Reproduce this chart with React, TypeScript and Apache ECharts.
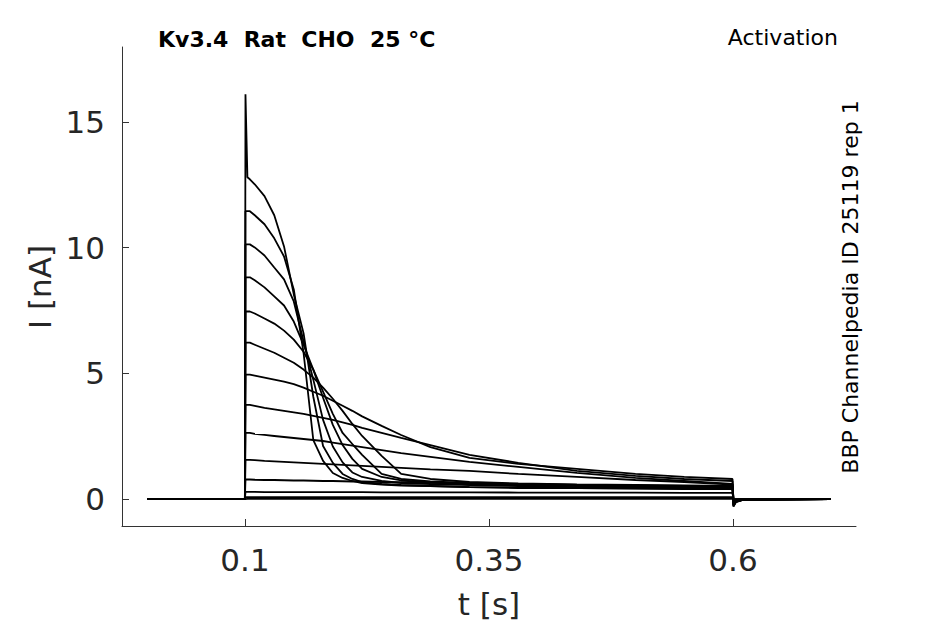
import React, { useEffect, useRef } from "react";
import * as echarts from "echarts";

// time samples [s]
const tSamples = [0, 0.0999, 0.1005, 0.1025, 0.105, 0.11, 0.12, 0.13, 0.14, 0.15, 0.16, 0.17, 0.18, 0.19, 0.2, 0.21, 0.22, 0.24, 0.26, 0.29, 0.33, 0.38, 0.44, 0.5, 0.55, 0.5995, 0.6005, 0.603, 0.61, 0.7];

// current traces [nA]
const traceA = [0, 0, 16.1, 12.8, 12.72, 12.52, 12.05, 11.29, 10.05, 8.14, 6.6, 4.07, 2.11, 1.44, 1.0, 0.8, 0.68, 0.6, 0.56, 0.52, 0.48, 0.46, 0.44, 0.43, 0.42, 0.4, -0.3, -0.12, -0.03, 0];
const traceB = [0, 0, 11.45, 11.45, 11.45, 11.29, 10.93, 10.37, 9.65, 8.34, 5.82, 2.35, 1.52, 1.04, 0.84, 0.72, 0.64, 0.58, 0.54, 0.52, 0.48, 0.44, 0.44, 0.42, 0.4, 0.4, -0.28, -0.11, -0.03, 0];
const traceC = [0, 0, 10.13, 10.13, 10.13, 10.01, 9.69, 9.21, 8.74, 7.86, 6.28, 4.75, 3.15, 2.09, 1.46, 1.06, 0.88, 0.72, 0.64, 0.6, 0.56, 0.52, 0.48, 0.48, 0.46, 0.44, -0.26, -0.1, -0.03, 0];
const traceD = [0, 0, 8.82, 8.82, 8.82, 8.7, 8.42, 8.06, 7.7, 7.06, 6.14, 5.15, 4.03, 2.95, 2.15, 1.6, 1.2, 0.88, 0.74, 0.66, 0.6, 0.56, 0.52, 0.5, 0.48, 0.46, -0.24, -0.1, -0.02, 0];
const traceE = [0, 0, 7.46, 7.46, 7.46, 7.38, 7.18, 6.98, 6.7, 6.34, 5.86, 5.15, 4.27, 3.39, 2.63, 2.19, 1.76, 1.0, 0.8, 0.7, 0.64, 0.6, 0.56, 0.54, 0.52, 0.52, -0.22, -0.09, -0.02, 0];
const traceF = [0, 0, 6.22, 6.22, 6.22, 6.14, 5.98, 5.82, 5.62, 5.42, 5.15, 4.83, 4.43, 3.99, 3.51, 2.99, 2.51, 1.72, 1.0, 0.8, 0.68, 0.62, 0.58, 0.56, 0.54, 0.52, -0.2, -0.08, -0.02, 0];
const traceG = [0, 0, 4.95, 4.95, 4.95, 4.91, 4.83, 4.75, 4.67, 4.57, 4.43, 4.27, 4.11, 3.91, 3.71, 3.51, 3.29, 2.91, 2.55, 2.07, 1.64, 1.4, 1.2, 1.0, 0.88, 0.8, -0.15, -0.06, -0.01, 0];
const traceH = [0, 0, 3.75, 3.75, 3.75, 3.71, 3.63, 3.57, 3.51, 3.45, 3.39, 3.31, 3.23, 3.15, 3.05, 2.95, 2.83, 2.63, 2.43, 2.15, 1.76, 1.44, 1.12, 0.92, 0.8, 0.72, -0.12, -0.05, -0.01, 0];
const traceI = [0, 0, 2.63, 2.63, 2.63, 2.59, 2.55, 2.51, 2.47, 2.43, 2.39, 2.35, 2.31, 2.25, 2.19, 2.13, 2.07, 1.95, 1.83, 1.68, 1.48, 1.28, 1.04, 0.84, 0.72, 0.6, -0.1, -0.04, -0.01, 0];
const traceJ = [0, 0, 1.56, 1.56, 1.56, 1.55, 1.52, 1.5, 1.48, 1.46, 1.44, 1.42, 1.4, 1.38, 1.36, 1.34, 1.32, 1.28, 1.24, 1.18, 1.12, 1.0, 0.88, 0.76, 0.68, 0.58, -0.06, -0.03, 0, 0];
const traceK = [0, 0, 0.78, 0.78, 0.78, 0.77, 0.76, 0.76, 0.75, 0.74, 0.74, 0.73, 0.72, 0.72, 0.71, 0.7, 0.7, 0.68, 0.67, 0.65, 0.62, 0.59, 0.56, 0.53, 0.5, 0.48, -0.04, -0.02, 0, 0];
const traceL = [0, 0, 0.29, 0.29, 0.29, 0.29, 0.28, 0.28, 0.28, 0.28, 0.28, 0.28, 0.28, 0.28, 0.28, 0.28, 0.28, 0.27, 0.27, 0.27, 0.27, 0.26, 0.26, 0.26, 0.25, 0.25, -0.02, -0.01, 0, 0];
const traceM = [0, 0, 0.08, 0.08, 0.08, 0.08, 0.08, 0.08, 0.08, 0.08, 0.08, 0.08, 0.08, 0.08, 0.08, 0.08, 0.08, 0.08, 0.08, 0.08, 0.08, 0.08, 0.08, 0.08, 0.08, 0.08, 0, 0, 0, 0];
const traceN = [0, 0, 0.01, 0.01, 0.01, 0.01, 0.01, 0.01, 0.01, 0.01, 0.01, 0.01, 0.01, 0.01, 0.01, 0.01, 0.01, 0.01, 0.01, 0.01, 0.01, 0.01, 0.01, 0.01, 0.01, 0.01, 0, 0, 0, 0];

const traces = [traceA, traceB, traceC, traceD, traceE, traceF, traceG, traceH, traceI, traceJ, traceK, traceL, traceM, traceN];

const xTicks = [0.1, 0.35, 0.6];
const yTicks = [0, 5, 10, 15];

const titleText = "Kv3.4  Rat  CHO  25 °C";
const protocolText = "Activation";
const sourceText = "BBP Channelpedia ID 25119 rep 1";
const xTitle = "t [s]";
const yTitle = "I [nA]";

const FONT = "'DejaVu Sans', sans-serif";
const TEXT_COLOR = "#262626";

export default function App() {
  const ref = useRef<HTMLDivElement>(null);
  useEffect(() => {
    if (!ref.current) return;
    const chart = echarts.init(ref.current, null, { renderer: "svg" });
    const series = traces.map((vals, i) => ({
      type: "line",
      name: "trace" + i,
      data: tSamples.map((t, j) => [t, vals[j]]),
      showSymbol: false,
      symbol: "none",
      silent: true,
      lineStyle: { color: "#000", width: 1.8 },
      z: 3,
    }));
    chart.setOption({
      animation: false,
      backgroundColor: "#fff",
      grid: { left: 122, right: 89, top: 47, bottom: 98, containLabel: false },
      xAxis: {
        type: "value",
        min: -0.026,
        max: 0.726,
        axisLine: { show: true, onZero: false, lineStyle: { color: "#333", width: 1 } },
        axisTick: { show: true, inside: true, length: 7, customValues: xTicks, lineStyle: { color: "#333", width: 1 } },
        axisLabel: {
          customValues: xTicks,
          fontSize: 31,
          fontFamily: FONT,
          color: TEXT_COLOR,
          margin: 18,
          formatter: (v: number) => String(v),
        },
        splitLine: { show: false },
      },
      yAxis: {
        type: "value",
        min: -1.07,
        max: 17.98,
        axisLine: { show: true, onZero: false, lineStyle: { color: "#333", width: 1 } },
        axisTick: { show: true, inside: true, length: 7, customValues: yTicks, lineStyle: { color: "#333", width: 1 } },
        axisLabel: {
          customValues: yTicks,
          fontSize: 31,
          fontFamily: FONT,
          color: TEXT_COLOR,
          margin: 17,
          formatter: (v: number) => String(v),
        },
        splitLine: { show: false },
      },
      graphic: [
        {
          type: "text",
          left: 158,
          top: 28,
          style: { text: titleText, font: "bold 22px " + FONT, fill: "#000" },
        },
        {
          type: "text",
          right: 107,
          top: 26,
          style: { text: protocolText, font: "22px " + FONT, fill: "#000" },
        },
        {
          type: "text",
          x: 850,
          y: 287,
          rotation: Math.PI / 2,
          style: { text: sourceText, font: "22px " + FONT, fill: "#000", align: "center", verticalAlign: "middle" },
        },
        {
          type: "text",
          x: 489,
          y: 604,
          style: { text: xTitle, font: "31px " + FONT, fill: TEXT_COLOR, align: "center", verticalAlign: "middle" },
        },
        {
          type: "text",
          x: 40,
          y: 287,
          rotation: Math.PI / 2,
          style: { text: yTitle, font: "31px " + FONT, fill: TEXT_COLOR, align: "center", verticalAlign: "middle" },
        },
      ],
      series,
    });
    return () => chart.dispose();
  }, []);
  return (
    <div
      ref={ref}
      style={{ position: "fixed", left: 0, top: 0, width: 945, height: 624, background: "#fff" }}
    />
  );
}
